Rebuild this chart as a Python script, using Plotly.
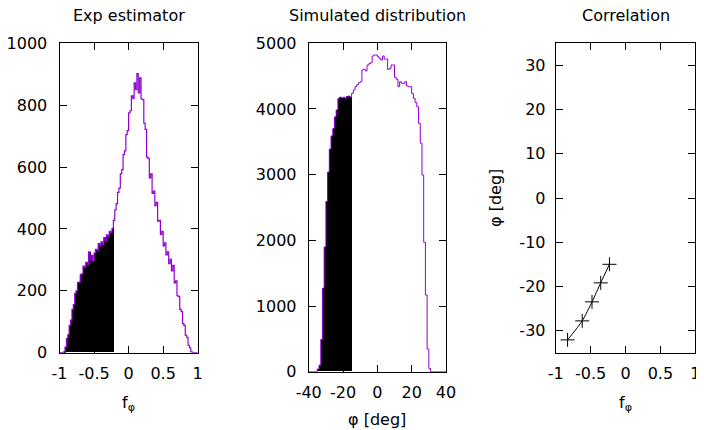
import plotly.graph_objects as go

# ---------------- data ----------------
# Panel 1: Exp estimator histogram (bins of width 0.02 from -1 to 1)
f_bin_start = -1.0
f_bin_width = 0.02
f_counts = [
    0, 0, 0, 3, 18, 45, 58, 88, 105, 140,
    155, 192, 200, 226, 228, 252, 255, 280, 276, 292,
    286, 326, 300, 315, 296, 322, 334, 330, 352, 345,
    358, 350, 372, 362, 381, 376, 392, 388, 402,
    428, 462, 482, 518, 532, 578, 592, 640, 652, 705,
    718, 775, 782, 830, 822, 872, 850, 902, 840, 888,
    820, 818, 742, 722, 632, 628, 565, 578, 515, 522,
    475, 486, 425, 428, 382, 392, 345, 355, 316, 326,
    288, 302, 264, 282, 226, 232, 184, 182, 140, 133,
    94, 88, 57, 50, 24, 16, 3, 0, 0, 0, 0,
]
f_cut = -0.22  # black fill below this value

# Panel 2: Simulated distribution (bins of 1 deg from -40 to 40)
phi_bin_start = -40.0
phi_bin_width = 1.0
phi_counts = [
    0, 0, 0, 0, 0,
    40, 100, 490, 1270, 1900, 2590, 3040, 3390, 3590, 3700,
    3880, 3985, 4160, 4180, 4165, 4178, 4165, 4190, 4198, 4185,
    4239, 4289, 4340, 4370, 4400, 4415, 4594, 4604, 4580, 4670,
    4690, 4705, 4807, 4822, 4822, 4796, 4771, 4746, 4807, 4760,
    4760, 4604, 4619, 4670, 4670, 4482, 4452, 4339, 4415, 4391,
    4391, 4415, 4350, 4339, 4339, 4238, 4162, 4100, 4035, 3782,
    3480, 2995, 1970, 1168, 346, 50,
    0, 0, 0, 0, 0, 0, 0, 0, 0,
]
phi_cut = -15.0

# Panel 3: Correlation
corr_f = [-0.83, -0.62, -0.48, -0.355, -0.23]
corr_phi = [-32.1, -27.8, -23.5, -19.2, -15.0]

# tick labels
p1_xticks = [-1, -0.5, 0, 0.5, 1]
p1_xlabels = ["-1", "-0.5", "0", "0.5", "1"]
p1_yticks = [0, 200, 400, 600, 800, 1000]
p2_xticks = [-40, -20, 0, 20, 40]
p2_xlabels = ["-40", "-20", "0", "20", "40"]
p2_yticks = [0, 1000, 2000, 3000, 4000, 5000]
p3_yticks = [-30, -20, -10, 0, 10, 20, 30]
p3_ylabels = ["-30", "-20", "-10", "0", "10", "20", "30"]

titles = ["Exp estimator", "Simulated distribution", "Correlation"]

# ---------------- figure ----------------
OFF = 8                      # page body margin of the html page
W, H = 704 - OFF, 430 - OFF  # figure size so that it fits the window
PURPLE = "#9400d3"
FONT = "DejaVu Sans"


def hist_parts(start, width, counts, cut):
    n = len(counts)
    edges = [start + i * width for i in range(n + 1)]
    centers = [start + (i + 0.5) * width for i in range(n)]
    step_x = edges
    step_y = list(counts) + [counts[-1]]
    bx = [c for c in centers if c < cut]
    by = [counts[i] for i, c in enumerate(centers) if c < cut]
    return step_x, step_y, bx, by


fig = go.Figure()

sx, sy, bx, by = hist_parts(f_bin_start, f_bin_width, f_counts, f_cut)
fig.add_trace(go.Scatter(x=sx, y=sy, mode="lines", line=dict(color=PURPLE, width=1.2, shape="hv"),
                         xaxis="x", yaxis="y", showlegend=False))
fig.add_trace(go.Bar(x=bx, y=by, width=f_bin_width, marker=dict(color="black", line=dict(width=0)),
                     xaxis="x", yaxis="y", showlegend=False))

sx, sy, bx, by = hist_parts(phi_bin_start, phi_bin_width, phi_counts, phi_cut)
fig.add_trace(go.Scatter(x=sx, y=sy, mode="lines", line=dict(color=PURPLE, width=1, shape="hv"),
                         xaxis="x2", yaxis="y2", showlegend=False))
fig.add_trace(go.Bar(x=bx, y=by, width=phi_bin_width, marker=dict(color="black", line=dict(width=0)),
                     xaxis="x2", yaxis="y2", showlegend=False))

fig.add_trace(go.Scatter(x=corr_f, y=corr_phi, mode="lines+markers",
                         line=dict(color="black", width=1, shape="spline", smoothing=0.6),
                         marker=dict(symbol="cross-thin", size=10, line=dict(color="black", width=1)),
                         xaxis="x3", yaxis="y3", showlegend=False))


def px_dom_x(a, b):
    return [(a - OFF) / W, (b - OFF) / W]


def px_dom_y(top, bottom):
    return [1 - (bottom - OFF) / H, 1 - (top - OFF) / H]


def pxx(p):
    return (p - OFF) / W


def pxy(p):
    return 1 - (p - OFF) / H


common = dict(showline=True, linecolor="black", linewidth=1, mirror="allticks",
              ticks="inside", ticklen=7, tickcolor="black", tickwidth=1,
              showgrid=False, zeroline=False, automargin=False, ticklabeloverflow="allow",
              tickfont=dict(family=FONT, size=16, color="black"))

fig.update_layout(
    width=W, height=H, autosize=False,
    margin=dict(l=0, r=0, t=0, b=0, pad=0, autoexpand=False),
    paper_bgcolor="white", plot_bgcolor="white",
    bargap=0, barmode="overlay",
    font=dict(family=FONT, size=16, color="black"),
    xaxis=dict(domain=px_dom_x(59.5, 197.7), range=[-1, 1], tickvals=p1_xticks, ticktext=p1_xlabels,
               anchor="y", ticklabelstandoff=6, **common),
    yaxis=dict(domain=px_dom_y(43.3, 352.7), range=[0, 1000], tickvals=p1_yticks,
               anchor="x", ticklabelstandoff=8, **common),
    xaxis2=dict(domain=px_dom_x(308.7, 446), range=[-40, 40], tickvals=p2_xticks, ticktext=p2_xlabels,
                anchor="y2", ticklabelstandoff=6, **common),
    yaxis2=dict(domain=px_dom_y(43.3, 371.7), range=[0, 5000], tickvals=p2_yticks,
                anchor="x2", ticklabelstandoff=8, **common),
    xaxis3=dict(domain=px_dom_x(555.7, 695.3), range=[-1, 1], tickvals=p1_xticks, ticktext=p1_xlabels,
                anchor="y3", ticklabelstandoff=6, **common),
    yaxis3=dict(domain=px_dom_y(43.3, 352.7), range=[-35, 35], tickvals=p3_yticks, ticktext=p3_ylabels,
                anchor="x3", ticklabelstandoff=6, **common),
)

ann = []
title_x = [128.6, 377.3, 625.5]
for t, x in zip(titles, title_x):
    ann.append(dict(text=t, x=pxx(x), y=pxy(16), xref="paper", yref="paper",
                    xanchor="center", yanchor="middle", showarrow=False,
                    font=dict(family=FONT, size=16, color="black")))
ann.append(dict(text="f<sub>φ</sub>", x=pxx(128.6), y=pxy(403), xref="paper", yref="paper",
                xanchor="center", yanchor="middle", showarrow=False))
ann.append(dict(text="φ [deg]", x=pxx(377.3), y=pxy(419), xref="paper", yref="paper",
                xanchor="center", yanchor="middle", showarrow=False))
ann.append(dict(text="f<sub>φ</sub>", x=pxx(625.5), y=pxy(403), xref="paper", yref="paper",
                xanchor="center", yanchor="middle", showarrow=False))
ann.append(dict(text="φ [deg]", x=pxx(495), y=pxy(198), xref="paper", yref="paper",
                xanchor="center", yanchor="middle", showarrow=False, textangle=-90))
fig.update_layout(annotations=ann)

fig.write_html("out.html")
